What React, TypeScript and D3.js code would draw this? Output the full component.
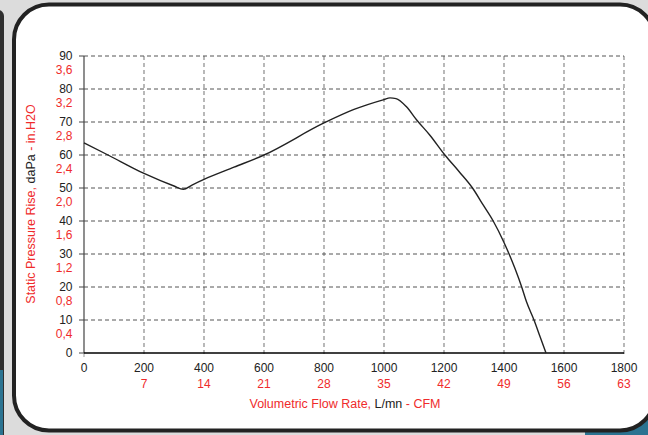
import * as d3 from "d3";

const flow = [0, 80, 200, 300, 331, 360, 400, 500, 600, 800, 900, 1000, 1020, 1040, 1075, 1109, 1153, 1203, 1250, 1295, 1331, 1364, 1400, 1437, 1459, 1475, 1500, 1520, 1540];
const pressure = [63.7, 60, 54.4, 50.6, 49.6, 50.9, 52.6, 56.3, 60, 69.7, 73.8, 76.8, 77.3, 77.1, 74.6, 70.6, 66, 60, 55, 50, 44.8, 40, 33.5, 25.5, 20, 15.5, 10, 5, 0];

const xTicks = [0, 200, 400, 600, 800, 1000, 1200, 1400, 1600, 1800];
const cfmLabels = ["", "7", "14", "21", "28", "35", "42", "49", "56", "63"];
const yTicks = [0, 10, 20, 30, 40, 50, 60, 70, 80, 90];
const inH2OLabels = ["", "0,4", "0,8", "1,2", "1,6", "2,0", "2,4", "2,8", "3,2", "3,6"];

const W = 648;
const H = 435;
const FONT = "'Liberation Sans', Arial, sans-serif";
const RED = "#ef2b2b";

export default function App() {
  const x = d3.scaleLinear().domain([0, 1800]).range([84, 624]);
  const y = d3.scaleLinear().domain([0, 90]).range([353, 56]);

  const pts = flow.map((f, i) => [f, pressure[i]] as [number, number]);
  const line = d3
    .line<[number, number]>()
    .x((d) => x(d[0]))
    .y((d) => y(d[1]))
    .curve(d3.curveMonotoneX);

  // card outline (rounded rectangle partly off the right edge)
  const card = { x: 14, y: 4.5, w: 641, h: 426, r: 35 };

  return (
    <div style={{ position: "fixed", left: 0, top: 0 }}>
      <svg width={W} height={H} style={{ display: "block", fontFamily: FONT }}>
        <rect x={0} y={0} width={W} height={H} fill="#dcdcdc" />
        {/* neighbouring panels */}
        <rect x={-10} y={10} width={14} height={440} rx={6} fill="#2f2f2f" />
        <rect x={0} y={370} width={3} height={65} fill="#2b7391" />
        <rect x={585} y={412} width={70} height={30} fill="#2b7391" />

        <rect
          x={card.x}
          y={card.y}
          width={card.w}
          height={card.h}
          rx={card.r}
          fill="#fff"
          stroke="#222"
          strokeWidth={4}
        />

        {/* vertical grid */}
        {xTicks.slice(1).map((t) => (
          <line
            key={"vx" + t}
            x1={x(t)}
            x2={x(t)}
            y1={y(90)}
            y2={y(0) + 4}
            stroke="#8a8a8a"
            strokeWidth={1.2}
            strokeDasharray="4,3"
          />
        ))}
        <line x1={x(0)} x2={x(0)} y1={y(0)} y2={y(0) + 4} stroke="#999" />

        {/* horizontal grid */}
        {yTicks.slice(1).map((t) => (
          <line
            key={"hy" + t}
            x1={x(0)}
            x2={x(1800)}
            y1={y(t)}
            y2={y(t)}
            stroke="#555"
            strokeWidth={1}
            strokeDasharray="4,3"
          />
        ))}

        {/* axes */}
        <line x1={x(0)} x2={x(0)} y1={y(90)} y2={y(0)} stroke="#444" strokeWidth={1.2} />
        {yTicks.map((t) => (
          <line key={"yt" + t} x1={x(0) - 5} x2={x(0)} y1={y(t)} y2={y(t)} stroke="#444" />
        ))}
        <line x1={x(0)} x2={x(1800)} y1={y(0)} y2={y(0)} stroke="#000" strokeWidth={1.3} />

        {/* y tick labels */}
        {yTicks.map((t, i) => (
          <g key={"yl" + t} fontSize={12} textAnchor="end">
            <text x={72.5} y={y(t) + 4.3} fill="#222">
              {t}
            </text>
            {inH2OLabels[i] && (
              <text x={72.5} y={y(t) + 17.5} fill={RED}>
                {inH2OLabels[i]}
              </text>
            )}
          </g>
        ))}

        {/* x tick labels */}
        {xTicks.map((t, i) => (
          <g key={"xl" + t} fontSize={12} textAnchor="middle">
            <text x={x(t)} y={372} fill="#222">
              {t}
            </text>
            {cfmLabels[i] && (
              <text x={x(t)} y={387.5} fill={RED}>
                {cfmLabels[i]}
              </text>
            )}
          </g>
        ))}

        {/* curve */}
        <path d={line(pts) ?? ""} fill="none" stroke="#222" strokeWidth={1.4} />

        {/* axis titles */}
        <text x={345} y={408} fontSize={12.5} textAnchor="middle" fill={RED}>
          Volumetric Flow Rate, <tspan fill="#222">L/mn</tspan> - CFM
        </text>
        <text
          transform={`translate(34.5, 204) rotate(-90)`}
          fontSize={12.5}
          textAnchor="middle"
          fill={RED}
        >
          Static Pressure Rise, <tspan fill="#222">daPa</tspan> - in.H2O
        </text>
      </svg>
    </div>
  );
}
